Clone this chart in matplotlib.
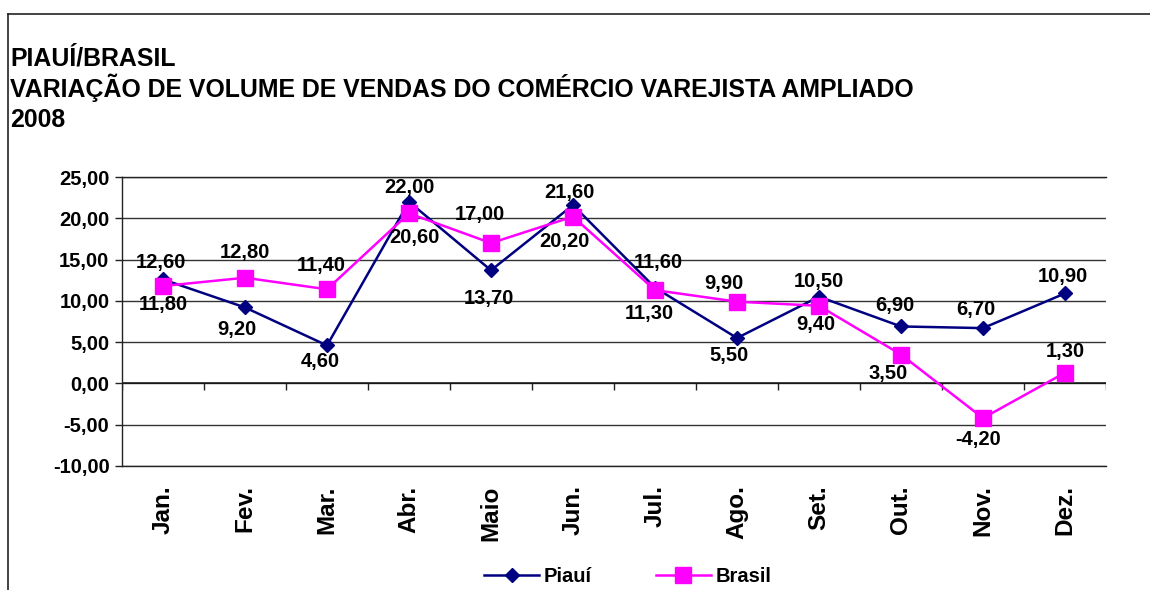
import matplotlib
matplotlib.use("Agg")
import matplotlib.pyplot as plt
from matplotlib.lines import Line2D

plt.rcParams['font.family'] = ['Liberation Sans', 'DejaVu Sans']
plt.rcParams['font.weight'] = 'bold'

# ---- data ----
months = ["Jan.", "Fev.", "Mar.", "Abr.", "Maio", "Jun.", "Jul.", "Ago.", "Set.", "Out.", "Nov.", "Dez."]
piaui = [12.60, 9.20, 4.60, 22.00, 13.70, 21.60, 11.60, 5.50, 10.50, 6.90, 6.70, 10.90]
brasil = [11.80, 12.80, 11.40, 20.60, 17.00, 20.20, 11.30, 9.90, 9.40, 3.50, -4.20, 1.30]
y_ticks = [25, 20, 15, 10, 5, 0, -5, -10]
title_lines = ["PIAUÍ/BRASIL",
               "VARIAÇÃO DE VOLUME DE VENDAS DO COMÉRCIO VAREJISTA AMPLIADO",
               "2008"]

# label offsets (style): (dx in categories, dy in value units)
piaui_off = [(-0.02, 2.0), (-0.10, -2.7), (-0.08, -2.0), (0.0, 1.7), (-0.02, -3.4), (-0.04, 1.5),
             (0.04, 3.1), (-0.10, -2.1), (0.0, 1.9), (-0.08, 2.5), (-0.09, 2.2), (-0.02, 2.05)]
brasil_off = [(0.0, -2.3), (0.0, 3.1), (-0.07, 2.9), (0.07, -2.9), (-0.13, 3.5), (-0.10, -3.0),
              (-0.07, -2.8), (-0.16, 2.2), (-0.04, -2.3), (-0.16, -2.3), (-0.06, -2.6), (0.0, 2.6)]

W, H = 1150, 590
fig = plt.figure(figsize=(W / 100, H / 100), dpi=100)
ax = fig.add_axes([122 / W, 1 - 466 / H, (1106 - 122) / W, (466 - 177) / H])

x = list(range(len(months)))
ax.plot(x, piaui, color='#000080', lw=1.8, marker='D', ms=6.8, zorder=3, label='Piauí')
ax.plot(x, brasil, color='#FF00FF', lw=1.8, marker='s', ms=11, zorder=4, label='Brasil')

def fmt(v):
    return f"{v:.2f}".replace('.', ',')

for i, v in enumerate(piaui):
    dx, dy = piaui_off[i]
    ax.text(i + dx, v + dy, fmt(v), ha='center', va='center', fontsize=14.5,
            fontweight='bold', color='black', zorder=5)
for i, v in enumerate(brasil):
    dx, dy = brasil_off[i]
    ax.text(i + dx, v + dy, fmt(v), ha='center', va='center', fontsize=14.5,
            fontweight='bold', color='black', zorder=5)

ax.set_xlim(-0.5, len(months) - 0.5)
ax.set_ylim(min(y_ticks), max(y_ticks))
ax.set_yticks(y_ticks)
ax.set_yticklabels([fmt(t) for t in y_ticks], fontsize=14.5, fontweight='bold')
ax.tick_params(axis='y', direction='out', length=5, width=1, color='#222222', pad=4)
ax.yaxis.grid(True, color='#333333', lw=1)
ax.set_axisbelow(True)

ax.set_xticks(x)
ax.set_xticklabels(months, rotation=90, fontsize=17.5, fontweight='bold')
ax.tick_params(axis='x', length=0, pad=14)

# category boundary ticks on the zero line
bounds = [i - 0.5 for i in range(len(months) + 1)]
ax.vlines(bounds, 0, -0.85, color='#222222', lw=1, zorder=2)
ax.axhline(0, color='#111111', lw=1.1, zorder=2)

ax.spines['right'].set_visible(False)
for s in ['left', 'top', 'bottom']:
    ax.spines[s].set_color('#222222')
    ax.spines[s].set_linewidth(1)

# titles
for line, yb in zip(title_lines, [65, 97, 127]):
    fig.text(10 / W, 1 - yb / H, line, ha='left', va='baseline', fontsize=17.9,
             fontweight='bold', color='black')

# outer frame (top and left edges visible)
fig.add_artist(Line2D([8 / W, 1.0], [1 - 14 / H, 1 - 14 / H], color='#222222', lw=1.2,
                      transform=fig.transFigure))
fig.add_artist(Line2D([8 / W, 8 / W], [1 - 14 / H, 0.0], color='#222222', lw=1.2,
                      transform=fig.transFigure))

fig.legend(loc='center', bbox_to_anchor=(628 / W, 1 - 577 / H), ncol=2, frameon=False,
           prop={'size': 14.5, 'weight': 'bold'}, handlelength=2.7, handletextpad=0.25,
           columnspacing=3.2)

fig.savefig('out.png', dpi=100)
